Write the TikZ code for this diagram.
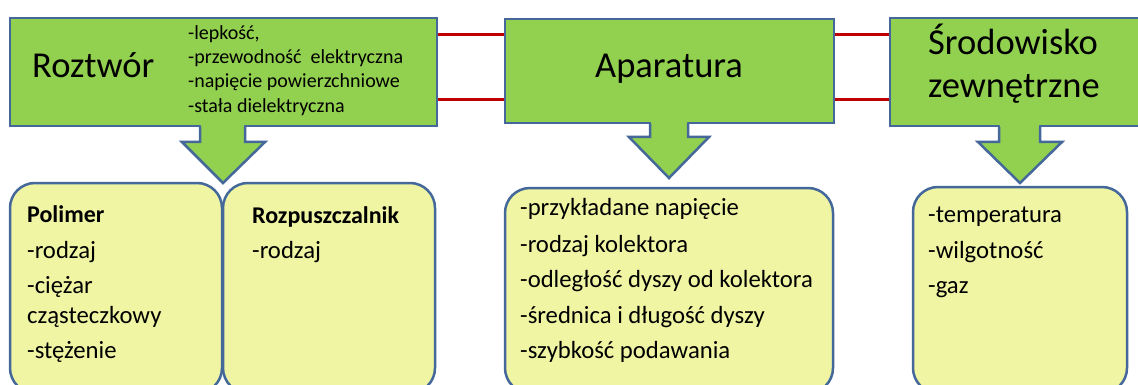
\documentclass[tikz,border=0pt]{standalone}
\usepackage{fontspec}
\setmainfont{Carlito}
\definecolor{bordercolor}{RGB}{69,104,154}
\definecolor{greenfill}{RGB}{146,208,80}
\definecolor{yellowfill}{RGB}{240,245,163}
\definecolor{redcol}{RGB}{192,0,0}
\begin{document}
\begin{tikzpicture}[x=1pt,y=-1pt,
  greenbox/.style={rectangle,draw=bordercolor,fill=greenfill,line width=2.5pt,inner sep=0pt},
  yellowbox/.style={draw=bordercolor,fill=yellowfill,line width=2.5pt,rounded corners=25pt},
  downarrow/.style={draw=bordercolor,fill=greenfill,line width=2.5pt,line join=miter},
  redline/.style={draw=redcol,line width=3pt},
  title/.style={inner sep=0pt,anchor=base west,font=\fontsize{36.5}{43}\selectfont},
  small/.style={inner sep=0pt,anchor=base west,font=\fontsize{20}{24}\selectfont},
  item/.style={inner sep=0pt,anchor=base west,font=\fontsize{24.7}{30}\selectfont},
  itembold/.style={item,font=\fontsize{24}{30}\selectfont\bfseries}
]
\useasboundingbox (0,0) rectangle (1138,385);
\fill[white] (0,0) rectangle (1138,385);
\clip (0,0) rectangle (1138,385);

\coordinate (ya) at (0,35);
\coordinate (yb) at (0,100);

% green top boxes
\node[greenbox,minimum width=427pt,minimum height=108pt] (roz) at (223.5,72) {};
\node[greenbox,minimum width=329pt,minimum height=104pt] (apa) at (669.5,71) {};
\node[greenbox,minimum width=255pt,minimum height=108pt] (sro) at (1017.5,72) {};

% red connectors
\draw[redline] (roz.east |- ya) -- (apa.west |- ya);
\draw[redline] (roz.east |- yb) -- (apa.west |- yb);
\draw[redline] (apa.east |- ya) -- (sro.west |- ya);
\draw[redline] (apa.east |- yb) -- (sro.west |- yb);

% lower yellow boxes
\draw[yellowbox] (10,183) rectangle (222,393);
\draw[yellowbox] (223,183) rectangle (435,393);
\draw[yellowbox] (505,188) rectangle (833,393);
\draw[yellowbox] (913,187) rectangle (1127,393);

% arrows
\draw[downarrow] (200,126) -- (200,142) -- (182,142) -- (223,183) -- (265,142) -- (245,142) -- (245,126);
\fill[greenfill] (201.25,123) rectangle (243.75,127.5);
\draw[downarrow] (650,123) -- (650,137) -- (629,137) -- (669,178) -- (709,137) -- (688,137) -- (688,123);
\fill[greenfill] (651.25,120) rectangle (686.75,124.5);
\draw[downarrow] (999,126) -- (999,142) -- (978,142) -- (1020,183) -- (1062,142) -- (1040,142) -- (1040,126);
\fill[greenfill] (1000.25,123) rectangle (1038.75,127.5);

% titles
\node[title] (trz) at (32,78) {Roztwór};
\node[title,anchor=base] (tap) at (669,78) {Aparatura};
\node[title] (ts1) at (928,55) {Środowisko};
\node[title] (ts2) at (928,98) {zewnętrzne};

% properties of the solution
\node[small] (s1) at (188,40) {-lepkość,};
\node[small] (s2) at (188,64) {-przewodność\ \ elektryczna};
\node[small] (s3) at (188,88) {-napięcie powierzchniowe};
\node[small] (s4) at (188,113) {-stała dielektryczna};

% Polimer
\node[itembold] (p0) at (27,222) {Polimer};
\node[item] (p1) at (27,258) {-rodzaj};
\node[item] (p2) at (27,293) {-ciężar};
\node[item] (p3) at (27,323) {cząsteczkowy};
\node[item] (p4) at (27,358) {-stężenie};

% Rozpuszczalnik
\node[itembold] (r0) at (252,223) {Rozpuszczalnik};
\node[item] (r1) at (252,258) {-rodzaj};

% Aparatura list
\node[item] (a1) at (520,215) {-przykładane napięcie};
\node[item] (a2) at (520,252) {-rodzaj kolektora};
\node[item] (a3) at (520,287) {-odległość dyszy od kolektora};
\node[item] (a4) at (520,323) {-średnica i długość dyszy};
\node[item] (a5) at (520,358) {-szybkość podawania};

% Srodowisko list
\node[item] (e1) at (928,222) {-temperatura};
\node[item] (e2) at (928,258) {-wilgotność};
\node[item] (e3) at (928,293) {-gaz};
\end{tikzpicture}
\end{document}
